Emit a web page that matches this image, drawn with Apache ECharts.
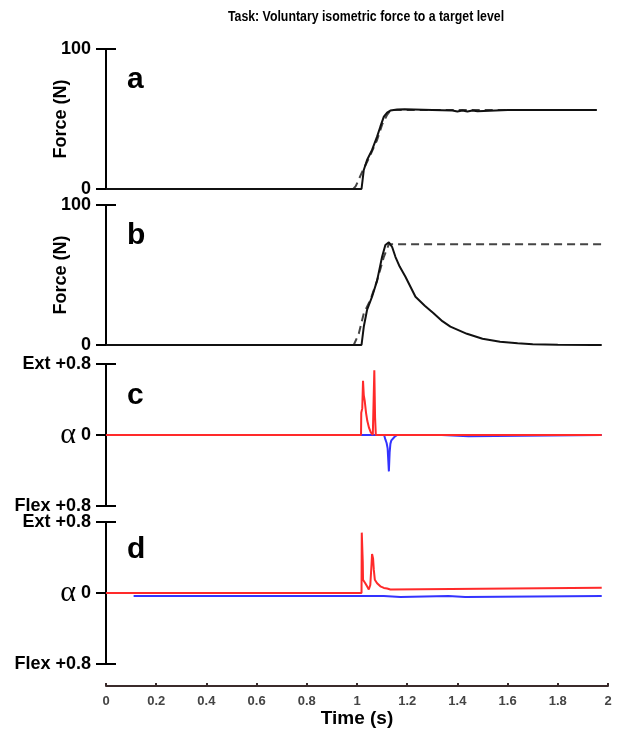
<!DOCTYPE html>
<html>
<head>
<meta charset="utf-8">
<title>Voluntary isometric force</title>
<script src="https://cdn.jsdelivr.net/npm/echarts@6/dist/echarts.min.js"></script>
<style>
    html, body { margin: 0; padding: 0; background: #fff; }
    #main { width: 629px; height: 731px; }
</style>
</head>
<body>
<div id="main"></div>
<script>
// panel a: force trace and target (N)
var timeA = [0, 1.018, 1.022, 1.027, 1.04, 1.06, 1.08, 1.093, 1.107, 1.12, 1.133, 1.16, 1.19, 1.3, 1.38, 1.4, 1.42, 1.44, 1.46, 1.48, 1.6, 1.955];
var forceA = [0, 0, 6, 13.6, 20.7, 27.9, 37.4, 44.5, 51.7, 54.5, 56, 56.8, 57, 56.5, 56, 55.3, 56, 55.3, 56, 55.5, 56.4, 56.4];
var targetTimeA = [0, 0.985, 0.995, 1.02, 1.05, 1.08, 1.1, 1.12, 1.135, 1.955];
var targetA = [0, 0, 2, 12, 23, 35, 46, 53, 56.4, 56.4];

// panel b
var timeB = [0, 1.018, 1.027, 1.04, 1.06, 1.08, 1.1, 1.113, 1.127, 1.14, 1.153, 1.17, 1.193, 1.233, 1.27, 1.305, 1.34, 1.372, 1.438, 1.5, 1.57, 1.64, 1.7, 1.8, 1.94, 1.975];
var forceB = [0, 0, 13, 25, 34.5, 46, 63, 71.4, 73.3, 70, 63, 56, 48.8, 34.5, 28, 22.6, 17, 13.1, 8, 4.5, 2.4, 1.3, 0.5, 0.2, 0, 0];
var targetTimeB = [0, 0.987, 1.007, 1.027, 1.053, 1.08, 1.107, 1.127, 1.975];
var targetB = [0, 0, 8, 22.6, 32, 46, 63, 72, 72];

// panel c: alpha (ext positive, flex negative)
var timeRedC = [0, 1.016, 1.017, 1.021, 1.024, 1.027, 1.031, 1.036, 1.041, 1.048, 1.055, 1.063, 1.066, 1.069, 1.072, 1.075, 1.975];
var redC = [0, 0, 0.25, 0.3, 0.61, 0.45, 0.38, 0.25, 0.16, 0.08, 0.03, 0, 0, 0.73, 0.2, 0, 0];
var timeBlueC = [0, 1.108, 1.113, 1.118, 1.122, 1.127, 1.13, 1.133, 1.137, 1.143, 1.15, 1.16, 1.338, 1.339, 1.444, 1.445, 1.975];
var blueC = [0, 0, -0.05, -0.09, -0.15, -0.41, -0.2, -0.1, -0.06, -0.04, -0.02, 0, 0, -0.015, -0.015, 0, 0];

// panel d
var timeRedD = [0, 1.018, 1.019, 1.023, 1.024, 1.033, 1.04, 1.047, 1.053, 1.058, 1.06, 1.064, 1.067, 1.071, 1.08, 1.093, 1.107, 1.12, 1.133, 1.14, 1.975];
var redD = [0, 0, 0.68, 0.35, 0.15, 0.11, 0.075, 0.04, 0.09, 0.33, 0.44, 0.39, 0.26, 0.15, 0.11, 0.075, 0.057, 0.05, 0.04, 0.06, 0.06];
var timeBlueD = [0.11, 1.107, 1.108, 1.173, 1.174, 1.364, 1.365, 1.431, 1.432, 1.975];
var blueD = [-0.035, -0.035, -0.046, -0.046, -0.035, -0.035, -0.046, -0.046, -0.035, -0.035];

var forceTicks = [0, 100];
var alphaTicks = [-0.8, 0, 0.8];

function pairs(xs, ys) {
    var out = [];
    for (var i = 0; i < xs.length; i++) {
        out.push([xs[i], ys[i]]);
    }
    return out;
}

var chart = echarts.init(document.getElementById('main'));

var labelFont = {
    fontFamily: 'Liberation Sans, Arial',
    fontWeight: 'bold',
    fontSize: 18,
    color: '#000'
};

// grids: a, b, c, d
var grids = [
    { left: 106, right: 21, top: 49, height: 140 },
    { left: 106, right: 21, top: 205, height: 140 },
    { left: 106, right: 21, top: 364, height: 142 },
    { left: 106, right: 21, top: 522, height: 142 }
];

var xAxes = [];
for (var g = 0; g < 4; g++) {
    xAxes.push({
        type: 'value', gridIndex: g, min: 0, max: 2, interval: 0.2,
        show: g === 3,
        position: 'bottom',
        offset: 22,
        axisLine: { onZero: false, lineStyle: { color: '#3a2b2b', width: 2 } },
        axisTick: { inside: true, length: 3, lineStyle: { color: '#3a2b2b', width: 2 } },
        axisLabel: {
            margin: 9, color: '#444', fontFamily: 'Liberation Sans, Arial',
            fontWeight: 'bold', fontSize: 13,
            formatter: function (v) { return String(v); }
        },
        splitLine: { show: false },
        name: 'Time (s)', nameLocation: 'middle', nameGap: 23, nameMoveOverlap: false,
        nameTextStyle: { fontFamily: 'Liberation Sans, Arial', fontWeight: 'bold', fontSize: 19, color: '#000' }
    });
}

function forceAxes(g) {
    var base = {
        type: 'value', gridIndex: g, position: 'left',
        min: forceTicks[0], max: forceTicks[1], interval: 100,
        splitLine: { show: false }
    };
    return [
        Object.assign({}, base, {
            axisLine: { show: true, onZero: false, lineStyle: { color: '#000', width: 2 } },
            axisTick: { show: true, length: 10, lineStyle: { color: '#000', width: 2 } },
            axisLabel: Object.assign({ margin: 15 }, labelFont),
            name: 'Force (N)', nameLocation: 'middle', nameGap: 36, nameMoveOverlap: false,
            nameTextStyle: labelFont
        }),
        Object.assign({}, base, {
            axisLine: { show: false, onZero: false },
            axisTick: { show: true, inside: true, length: 10, lineStyle: { color: '#000', width: 2 } },
            axisLabel: { show: false }
        })
    ];
}

function alphaAxes(g) {
    var base = {
        type: 'value', gridIndex: g, position: 'left',
        min: alphaTicks[0], max: alphaTicks[2], interval: 0.8,
        splitLine: { show: false }
    };
    return [
        Object.assign({}, base, {
            axisLine: { show: true, onZero: false, lineStyle: { color: '#000', width: 2 } },
            axisTick: { show: true, length: 10, lineStyle: { color: '#000', width: 2 } },
            axisLabel: Object.assign({
                margin: 15,
                formatter: function (v) {
                    if (v > 0) return 'Ext +0.8';
                    if (v < 0) return 'Flex +0.8';
                    return '{al|α} 0';
                },
                rich: {
                    al: { fontFamily: 'Liberation Serif, serif', fontSize: 30, fontWeight: 'normal', color: '#000' }
                }
            }, labelFont)
        }),
        Object.assign({}, base, {
            axisLine: { show: false, onZero: false },
            axisTick: { show: true, inside: true, length: 10, lineStyle: { color: '#000', width: 2 } },
            axisLabel: { show: false }
        })
    ];
}

var yAxes = [].concat(forceAxes(0), forceAxes(1), alphaAxes(2), alphaAxes(3));

function line(g, data, color, width, type) {
    return {
        type: 'line', xAxisIndex: g, yAxisIndex: g * 2,
        data: data, showSymbol: false, symbol: 'none',
        lineStyle: { color: color, width: width, type: type || 'solid' },
        silent: true
    };
}

var letterFont = 'bold 30px "Liberation Sans", Arial';

var option = {
    animation: false,
    backgroundColor: '#fff',
    grid: grids,
    xAxis: xAxes,
    yAxis: yAxes,
    graphic: [
        { type: 'text', x: 366, y: 10, scaleX: 0.88, style: { text: 'Task: Voluntary isometric force to a target level', align: 'center', fill: '#000', font: 'bold 14px "Liberation Sans", Arial' } },
        { type: 'text', left: 127, top: 65, style: { text: 'a', fill: '#000', font: letterFont } },
        { type: 'text', left: 127, top: 221, style: { text: 'b', fill: '#000', font: letterFont } },
        { type: 'text', left: 127, top: 381, style: { text: 'c', fill: '#000', font: letterFont } },
        { type: 'text', left: 127, top: 535, style: { text: 'd', fill: '#000', font: letterFont } }
    ],
    series: [
        line(0, pairs(targetTimeA, targetA), '#444', 2, [8, 5]),
        line(0, pairs(timeA, forceA), '#111', 2),
        line(1, pairs(targetTimeB, targetB), '#444', 2, [8, 5]),
        line(1, pairs(timeB, forceB), '#111', 2),
        line(2, pairs(timeBlueC, blueC), '#3333ff', 2),
        line(2, pairs(timeRedC, redC), '#ff2a2a', 2),
        line(3, pairs(timeBlueD, blueD), '#3333ff', 2),
        line(3, pairs(timeRedD, redD), '#ff2a2a', 2)
    ]
};

chart.setOption(option);
</script>
</body>
</html>
